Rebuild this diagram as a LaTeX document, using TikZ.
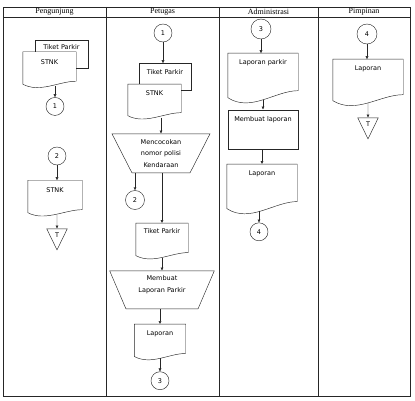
\documentclass[tikz,border=0pt]{standalone}
\usepackage{fontspec}
\setmainfont{Liberation Serif}
\newfontfamily\isifont{DejaVu Sans}
\usetikzlibrary{positioning,shapes.geometric,arrows.meta}

\begin{document}
\begin{tikzpicture}[
        x=1pt, y=-1pt,
        line width=0.45pt, draw=black!85,
        every node/.style={font=\isifont\fontsize{6.5}{11.5}\selectfont},
        judul/.style={font=\fontsize{8}{9}\selectfont},
        kotak/.style={rectangle, draw, fill=white, inner sep=1pt, text height=5pt},
        dokumen/.style={rectangle, fill=white, inner sep=1pt, text height=5pt},
        manual/.style={trapezium, draw, shape border rotate=180, trapezium stretches=true, align=center, inner sep=1pt},
        konektor/.style={circle, draw, minimum size=18pt, inner sep=0pt},
        akhir/.style={isosceles triangle, isosceles triangle apex angle=52, shape border rotate=-90, draw, minimum height=21pt, inner sep=0pt},
        alur/.style={-{Latex[length=3pt,width=3pt]}}
    ]
        \useasboundingbox (0,0) rectangle (415,401);

        % Kolom dan judul
        \draw (3,7) rectangle (410,396);
        \draw (3,17) -- (410,17);
        \foreach \x in {106,219,318} \draw (\x,7) -- (\x,396);
        \node[judul] (jPengunjung) at (54.5,12) {Pengunjung};
        \node[judul] (jPetugas) at (162.5,12) {Petugas};
        \node[judul] (jAdministrasi) at (268.5,12) {Administrasi};
        \node[judul] (jPimpinan) at (364,12) {Pimpinan};

        % Pengunjung
        \node[kotak, minimum width=53pt, minimum height=28pt, text depth=14pt] (tiket1) at (61.5,54) {Tiket Parkir};
        \node[dokumen, minimum width=53pt, minimum height=34pt, text depth=14pt] (stnk1) at (49.5,69) {STNK};
        \node[konektor, below=11pt of stnk1, xshift=5.5pt] (c1a) {1};
        \node[konektor] (c2a) at (57,156) {2};
        \node[dokumen, minimum width=54pt, minimum height=34pt, text depth=14pt, below=15pt of c2a, xshift=-2pt] (stnk2) {STNK};
        \node[akhir, below=14pt of stnk2, xshift=2pt] (t1) {T};

        % Petugas
        \node[konektor] (c1b) at (163,33) {1};
        \node[kotak, minimum width=52pt, minimum height=27pt, text depth=9pt, below=21pt of c1b, xshift=2pt] (tiket2) {Tiket Parkir};
        \node[dokumen, minimum width=53pt, minimum height=33pt, text depth=15pt] (stnk3) at ([shift={(-10.5,24)}]tiket2.center) {STNK};
        \node[manual, minimum width=98pt, minimum height=39pt, trapezium left angle=64, trapezium right angle=64, below=16pt of stnk3, xshift=6.5pt] (cocok) {Mencocokan\\nomor polisi\\Kendaraan};
        \node[konektor, minimum size=19pt] (c2b) at (135,200) {2};
        \node[dokumen, minimum width=52pt, minimum height=34pt, text depth=18pt, below=50pt of cocok, xshift=1pt] (tiket3) {Tiket Parkir};
        \node[manual, minimum width=105pt, minimum height=38pt, trapezium left angle=70, trapezium right angle=70, text depth=12pt, below=13pt of tiket3] (buatlap) {Membuat\\Laporan Parkir};
        \node[dokumen, minimum width=51pt, minimum height=34pt, text depth=16pt, below=15pt of buatlap, xshift=-2pt] (lap1) {Laporan};
        \node[konektor, below=13pt of lap1] (c3a) {3};

        % Administrasi
        \node[konektor, minimum size=20pt] (c3b) at (261,29) {3};
        \node[dokumen, minimum width=70pt, minimum height=46pt, text depth=28pt, below=14pt of c3b, xshift=2pt] (lapparkir) {Laporan parkir};
        \node[kotak, minimum width=70pt, minimum height=39pt, text depth=21pt, below=10pt of lapparkir] (membuat) {Membuat laporan};
        \node[dokumen, minimum width=70pt, minimum height=46pt, text depth=28pt, below=15pt of membuat, xshift=-1pt] (lap2) {Laporan};
        \node[konektor, below=12pt of lap2, xshift=-3pt] (c4a) {4};

        % Pimpinan
        \node[konektor, minimum size=20pt] (c4b) at (367,34) {4};
        \node[dokumen, minimum width=70pt, minimum height=43pt, text depth=25pt, below=15pt of c4b, xshift=1pt] (lap3) {Laporan};
        \node[akhir, below=15pt of lap3] (t2) {T};

        % Garis dokumen (bawah bergelombang)
        \foreach \d/\l/\r/\h/\b in {stnk1/2/5/17/9, stnk2/2/5/17/9, stnk3/2/5/17/9, tiket3/2/5/17/9, lap1/2/5/17/9,
                                    lapparkir/2/9/23/15, lap2/2/9/23/15, lap3/2/8/23/14}
            \draw ([yshift=\l pt]\d.south west) -- (\d.north west) -- (\d.north east) -- ([yshift=\r pt]\d.south east)
                .. controls +(-\h pt,0pt) and +(\h pt,-\b pt) .. ([yshift=\l pt]\d.south west);

        % Alur
        \draw[alur] (stnk1.south -| c1a) -- (c1a);
        \draw[alur] (c2a) -- (c2a |- stnk2.north);
        \draw[alur] (stnk2.south -| t1) -- (t1);
        \draw[alur] (c1b) -- (c1b |- tiket2.north);
        \draw[alur] (stnk3.south -| cocok.north) -- (cocok.north);
        \draw[alur] (cocok.south -| c2b) -- (c2b);
        \draw[alur] (cocok.south -| tiket3.north) -- (tiket3.north);
        \draw[alur] (tiket3.south -| buatlap.north) -- (buatlap.north);
        \draw[alur] (buatlap.south -| lap1.north) -- (lap1.north);
        \draw[alur] (lap1) -- (c3a);
        \draw[alur] (c3b) -- (c3b |- lapparkir.north);
        \draw[alur] (lapparkir) -- (membuat);
        \draw[alur] (membuat.south -| lap2.north) -- (lap2.north);
        \draw[alur] (lap2.south -| c4a) -- (c4a);
        \draw[alur] (c4b) -- (c4b |- lap3.north);
        \draw[alur] (lap3) -- (t2);

    \end{tikzpicture}
\end{document}
